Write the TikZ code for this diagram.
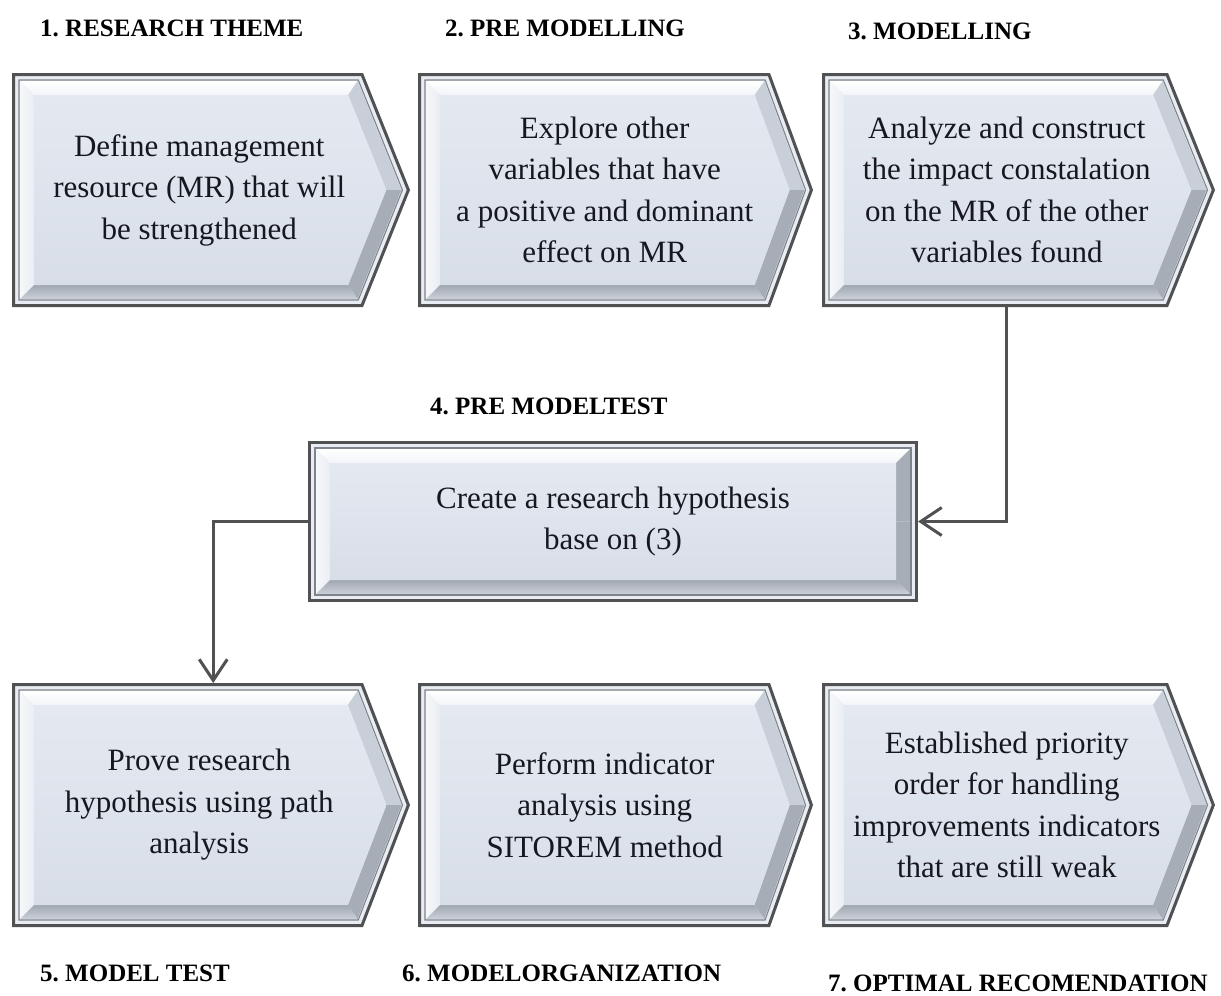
\documentclass[tikz,border=0pt]{standalone}
\usepackage{fontspec}
\setmainfont{Liberation Serif}
\usetikzlibrary{arrows.meta,calc}
\frenchspacing

\definecolor{edgegray}{HTML}{505153}
\definecolor{ringfill}{HTML}{E9EDF3}
\definecolor{innerline}{HTML}{7E848C}
\definecolor{facetop}{HTML}{E4E9F1}
\definecolor{facebot}{HTML}{D8DEE8}
\definecolor{bodyink}{HTML}{16181F}
\definecolor{bevelhi}{RGB}{201,207,216}
\definecolor{bevello}{RGB}{166,173,183}

\tikzset{
  boxtext/.style={draw=none, inner sep=0pt, outer sep=0pt, align=center,
    text=bodyink, font=\fontsize{31}{41.5}\selectfont},
  steplabel/.style={anchor=west, inner sep=0pt, font=\fontsize{25}{30}\selectfont\bfseries},
  conn/.style={draw=edgegray, line width=3pt, line join=miter,
    -{Straight Barb[length=21pt,width=28pt,line width=3pt]}},
}

% corner points of a box outline drawn #2 pt inside the outer edge
\newcommand\bxpts[2]{%
  \coordinate (#1tl) at (\bxa+#2,\bya+#2);
  \coordinate (#1tc) at (\bxc-#2*\bkc,\bya+#2);
  \coordinate (#1tp) at (\bxt-#2*\bkh,\bym);
  \coordinate (#1bc) at (\bxc-#2*\bkc,\byb-#2);
  \coordinate (#1bl) at (\bxa+#2,\byb-#2);}

% bevelled chevron box: name, left, top, bottom, corner x, tip x, text
\newcommand\flowbox[7]{%
  \pgfmathsetmacro\bxa{#2}\pgfmathsetmacro\bya{#3}\pgfmathsetmacro\byb{#4}%
  \pgfmathsetmacro\bxc{#5}\pgfmathsetmacro\bxt{#6}%
  \pgfmathsetmacro\bym{(#3+#4)/2}%
  \pgfmathsetmacro\bkr{(#6-#5)/(\bym-#3)}%
  \pgfmathsetmacro\bkh{sqrt(1+\bkr*\bkr)}%
  \pgfmathsetmacro\bkc{\bkh-\bkr}%
  \ifdim #5pt=#6pt \colorlet{bevelup}{bevello}\else\colorlet{bevelup}{bevelhi}\fi
  \bxpts{A}{1.5}\bxpts{G}{7}\bxpts{B}{8}\bxpts{F}{22}%
  \fill[ringfill] (Atl)--(Atc)--(Atp)--(Abc)--(Abl)--cycle;
  \shade[top color=white, bottom color=ringfill!60!white]
    (Btl)--(Btc)--(Ftc)--(Ftl)--cycle;
  \shade[left color=ringfill!40!white, right color=ringfill]
    (Bbl)--(Btl)--(Ftl)--(Fbl)--cycle;
  \fill[bevelup] (Btc)--(Btp)--(Ftp)--(Ftc)--cycle;
  \fill[bevello] (Btp)--(Bbc)--(Fbc)--(Ftp)--cycle;
  \shade[top color={rgb,255:red,160;green,167;blue,177},
         bottom color={rgb,255:red,204;green,209;blue,217}]
    (Bbc)--(Bbl)--(Fbl)--(Fbc)--cycle;
  \shade[top color=facetop, bottom color=facebot]
    (Ftl)--(Ftc)--(Ftp)--(Fbc)--(Fbl)--cycle;
  \draw[innerline, line width=1.1pt, line join=miter]
    (Gtl)--(Gtc)--(Gtp)--(Gbc)--(Gbl)--cycle;
  \draw[edgegray, line width=3pt, line join=miter]
    (Atl)--(Atc)--(Atp)--(Abc)--(Abl)--cycle;
  \pgfmathsetmacro\bw{(#5+#6)/2-#2}%
  \pgfmathsetmacro\bh{#4-#3}%
  \node[boxtext, minimum width=\bw pt, minimum height=\bh pt]
    (#1) at ({(#2+(#5+#6)/2)/2},\bym) {#7};
}

\begin{document}
\begin{tikzpicture}[x=1pt,y=-1pt]
\useasboundingbox[fill=white] (0,0) rectangle (1221,996);

% top row
\flowbox{b1}{12}{73}{307}{363}{410}{Define management\\resource (MR) that will\\be strengthened}
\flowbox{b2}{418}{73}{307}{770}{813}{Explore other\\variables that have\\a positive and dominant\\effect on MR}
\flowbox{b3}{822}{73}{307}{1168}{1215}{Analyze and construct\\the impact constalation\\on the MR of the other\\variables found}

% middle box
\flowbox{b4}{308}{441}{602}{918}{918}{Create a research hypothesis\\base on (3)}

% bottom row
\flowbox{b5}{12}{683}{927}{363}{410}{Prove research\\hypothesis using path\\analysis}
\flowbox{b6}{418}{683}{927}{770}{813}{Perform indicator\\analysis using\\SITOREM method}
\flowbox{b7}{822}{683}{927}{1168}{1215}{Established priority\\order for handling\\improvements indicators\\that are still weak}

% stage titles
\node[steplabel] (t1) at (40,28) {1. RESEARCH THEME};
\node[steplabel] (t2) at (445,28) {2. PRE MODELLING};
\node[steplabel] (t3) at (848,31) {3. MODELLING};
\node[steplabel] (t4) at (430,406) {4. PRE MODELTEST};
\node[steplabel] (t5) at (40,973) {5. MODEL TEST};
\node[steplabel] (t6) at (402,973) {6. MODELORGANIZATION};
\node[steplabel] (t7) at (828,983) {7. OPTIMAL RECOMENDATION};

% connectors
\draw[conn] (b3.south) |- (b4.east);
\draw[conn] (b4.west) -| ([xshift=14pt]b5.north);
\end{tikzpicture}
\end{document}
